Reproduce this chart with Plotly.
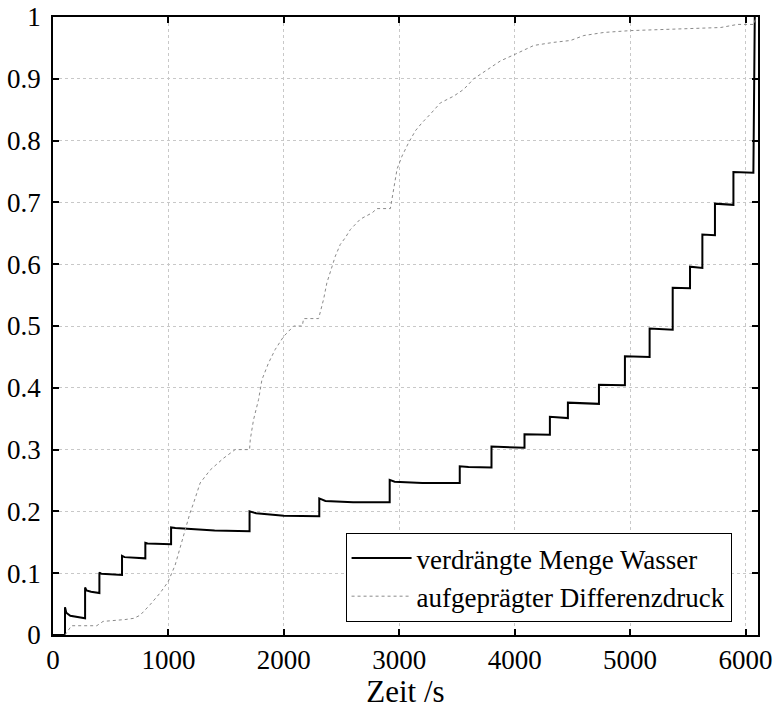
import plotly.graph_objects as go

# verdrängte Menge Wasser (black solid line)
t_wasser = [0, 104, 104, 115, 150, 278,
            278, 290, 330, 402,
            402, 420, 598,
            598, 620, 800,
            800, 820, 1023,
            1023, 1060, 1400, 1703,
            1703, 1760, 2000, 2307,
            2307, 2360, 2600, 2917,
            2917, 2960, 3200, 3524,
            3524, 3600, 3799,
            3799, 4085,
            4085, 4305,
            4305, 4461,
            4461, 4730,
            4730, 4955,
            4955, 5169,
            5169, 5369,
            5369, 5519,
            5519, 5626,
            5626, 5735,
            5735, 5895,
            5895, 6068,
            6080]
v_wasser = [0, 0, 0.045, 0.036, 0.031, 0.027,
            0.077, 0.072, 0.070, 0.068,
            0.101, 0.099, 0.097,
            0.128, 0.126, 0.124,
            0.149, 0.148, 0.147,
            0.174, 0.173, 0.169, 0.168,
            0.200, 0.197, 0.193, 0.192,
            0.221, 0.217, 0.215, 0.215,
            0.251, 0.248, 0.246, 0.246,
            0.273, 0.272, 0.271,
            0.305, 0.303,
            0.325, 0.324,
            0.353, 0.351,
            0.376, 0.374,
            0.405, 0.404,
            0.451, 0.450,
            0.496, 0.494,
            0.562, 0.561,
            0.596, 0.594,
            0.648, 0.647,
            0.698, 0.696,
            0.749, 0.748,
            1.0]

# aufgeprägter Differenzdruck (grey dotted line)
t_druck = [104, 160, 379, 434, 624, 700, 755, 841, 928, 997, 1058, 1145, 1188,
           1217, 1275, 1362, 1477, 1578, 1703, 1709, 1737, 1781, 1810, 1867,
           1925, 1998, 2085, 2160, 2171, 2301, 2344, 2373, 2402, 2446, 2489,
           2533, 2576, 2663, 2764, 2807, 2923, 2951, 2981, 3024, 3082, 3140,
           3198, 3270, 3356, 3472, 3559, 3645, 3747, 3877, 4007, 4166, 4339,
           4484, 4599, 4773, 5004, 5380, 5785, 5930, 6074, 6085]
v_druck = [0, 0.015, 0.015, 0.022, 0.025, 0.027, 0.032, 0.049, 0.068, 0.086,
           0.113, 0.173, 0.198, 0.213, 0.246, 0.267, 0.286, 0.300, 0.300,
           0.316, 0.348, 0.381, 0.413, 0.440, 0.462, 0.483, 0.500, 0.500,
           0.512, 0.512, 0.543, 0.570, 0.588, 0.613, 0.632, 0.643, 0.656,
           0.673, 0.683, 0.690, 0.690, 0.721, 0.754, 0.775, 0.797, 0.816,
           0.829, 0.843, 0.861, 0.872, 0.883, 0.900, 0.913, 0.929, 0.940,
           0.954, 0.959, 0.962, 0.970, 0.975, 0.978, 0.980, 0.983, 0.988,
           0.988, 0.997]

x_ticks = [0, 1000, 2000, 3000, 4000, 5000, 6000]
y_ticks = [0, 0.1, 0.2, 0.3, 0.4, 0.5, 0.6, 0.7, 0.8, 0.9, 1]
y_tick_text = ["0", "0.1", "0.2", "0.3", "0.4", "0.5", "0.6", "0.7", "0.8", "0.9", "1"]

FONT = "Liberation Serif"

fig = go.Figure()
fig.add_trace(go.Scatter(x=t_wasser, y=v_wasser, mode="lines",
                         name="verdrängte Menge Wasser",
                         line=dict(color="black", width=2)))
fig.add_trace(go.Scatter(x=t_druck, y=v_druck, mode="lines",
                         name="aufgeprägter Differenzdruck",
                         line=dict(color="#8a8a8a", width=1, dash="dot")))

axis_common = dict(
    showline=True, linecolor="black", linewidth=1.5, mirror="ticks",
    ticks="inside", ticklen=6, tickwidth=1.5, tickcolor="black",
    showgrid=True, gridcolor="#c8c8c8", griddash="dot", gridwidth=1,
    zeroline=False, automargin=False,
    tickfont=dict(family=FONT, size=27, color="black"),
)

fig.update_xaxes(range=[0, 6108], tickvals=x_ticks,
                 title=dict(text="Zeit /s", font=dict(family=FONT, size=31, color="black"),
                            standoff=2),
                 **axis_common)
fig.update_yaxes(range=[0, 1], tickvals=y_ticks, ticktext=y_tick_text,
                 ticklabelstandoff=5, **axis_common)

fig.update_layout(
    width=773, height=709,
    margin=dict(l=53, r=15, t=17, b=74),
    plot_bgcolor="white", paper_bgcolor="white",
    font=dict(family=FONT, color="black"),
    legend=dict(x=0.415, y=0.165, xanchor="left", yanchor="top",
                bgcolor="white", bordercolor="black", borderwidth=1,
                font=dict(family=FONT, size=27, color="black"),
                itemwidth=60, tracegroupgap=0),
    showlegend=True,
)

fig.write_html("out.html")
